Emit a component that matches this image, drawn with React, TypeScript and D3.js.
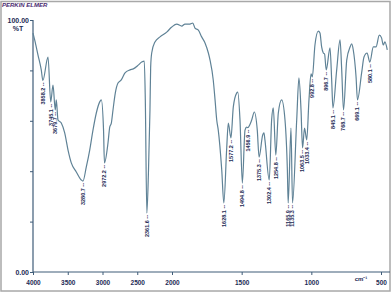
import React, { useRef, useEffect } from "react";
import * as d3 from "d3";

// wavenumber (cm-1) and transmittance (%T)
const wavenumbers = [
  4000, 3976, 3928, 3881, 3858, 3784, 3745, 3712, 3680, 3665, 3640, 3593, 3544, 3496, 3449, 3377,
  3305, 3281, 3233, 3184, 3137, 3089, 3040, 3017, 2985, 2972, 2921, 2896, 2873, 2849, 2816, 2777,
  2730, 2676, 2604, 2557, 2485, 2436, 2399, 2384, 2362, 2338, 2317, 2307, 2292, 2245, 2173, 2076,
  2004, 1966, 1930, 1907, 1871, 1851, 1835, 1811, 1787, 1763, 1739, 1727, 1704, 1691, 1679, 1668,
  1643, 1628, 1607, 1596, 1577, 1560, 1536, 1528, 1512, 1495, 1476, 1464, 1457, 1428, 1409, 1388,
  1375, 1349, 1340, 1333, 1302, 1285, 1273, 1255, 1237, 1213, 1189, 1172, 1166, 1146, 1135, 1105,
  1089, 1074, 1063, 1049, 1033, 1017, 1002, 993, 974, 950, 938, 926, 914, 905, 893, 866, 854, 845,
  818, 794, 782, 769, 746, 722, 710, 699, 679, 669, 639, 622, 600, 580, 555, 536, 512, 496, 484,
  472, 455,
];
const transmittance = [
  94.8, 92.1, 86.1, 80.2, 76.0, 85.3, 67.5, 74.2, 64.3, 68.3, 60.3, 59.1, 55.2, 48.4, 43.3, 39.7,
  36.5, 36.1, 41.7, 48.4, 56.3, 63.1, 67.5, 68.3, 56.3, 43.3, 51.2, 57.5, 59.1, 64.3, 71.0, 75.0,
  76.2, 79.0, 80.2, 80.6, 82.1, 83.3, 83.7, 68.3, 23.4, 40.5, 64.3, 81.3, 86.9, 91.3, 93.3, 95.2,
  97.2, 98.4, 97.6, 98.4, 98.4, 98.8, 96.8, 96.0, 93.3, 90.9, 86.9, 84.1, 76.2, 68.3, 60.3, 56.3,
  40.5, 27.4, 49.6, 59.1, 53.2, 65.5, 71.0, 71.4, 60.3, 35.3, 56.3, 57.5, 57.3, 60.3, 63.5, 56.3,
  45.6, 54.4, 55.2, 52.4, 36.5, 60.3, 65.1, 46.4, 63.1, 68.3, 60.3, 40.5, 27.4, 57.1, 27.4, 60.3,
  77.0, 64.3, 49.2, 57.1, 52.4, 68.3, 78.6, 77.4, 90.1, 95.6, 94.8, 89.3, 86.9, 86.5, 80.2, 88.9, 76.2, 65.1,
  80.2, 92.1, 80.2, 64.3, 84.1, 89.3, 90.5, 88.1, 77.4, 68.3, 79.0, 85.3, 86.9, 83.3, 89.3, 89.3, 94.0, 92.9, 90.1,
  91.3, 88.1,
];

// peak annotations
const peakLabels = [
  "3858.2", "3745.1", "3679.7", "3280.7", "2972.2", "2361.6", "1628.1", "1577.2", "1494.8",
  "1456.9", "1375.3", "1302.4", "1254.8", "1165.9", "1135.3", "1063.5", "1033.4", "992.8",
  "896.7", "845.1", "768.7", "669.1", "580.1",
];

const xTicks = [4000, 3500, 3000, 2500, 2000, 1500, 1000, 500];
const yTicks = [0, 20, 40, 60, 80, 100];

const App = () => {
  const svgRef = useRef<SVGSVGElement>(null);

  useEffect(() => {
    const svg = d3.select(svgRef.current);
    svg.selectAll("*").remove();

    const width = 392;
    const height = 294;
    const axisColor = "#3f5c78";
    const inkColor = "#1c2a55";

    // IR scale changes at 2000 cm-1
    const x = d3.scaleLinear().domain([4000, 2000, 500]).range([33, 172, 381]);
    const y = d3.scaleLinear().domain([0, 100]).range([272, 20]);

    svg.append("rect").attr("width", width).attr("height", height).attr("fill", "#fff");
    svg.append("rect")
      .attr("x", 1).attr("y", 1.5).attr("width", 389).attr("height", 289.5)
      .attr("fill", "none").attr("stroke", "#a8a8a8").attr("stroke-width", 1.5);

    svg.append("text")
      .attr("x", 2).attr("y", 6.5)
      .attr("font-family", "Liberation Sans").attr("font-size", 6).attr("font-weight", "bold")
      .attr("font-style", "italic").attr("fill", "#4a2a70")
      .text("PERKIN ELMER");

    // axes
    const xAxis = svg.append("g")
      .attr("transform", "translate(0,272)")
      .call(d3.axisBottom(x).tickValues(xTicks).tickSize(3).tickFormat((d) => String(d)));
    xAxis.select(".domain").remove();
    xAxis.selectAll("line").attr("stroke", axisColor);
    xAxis.selectAll("text")
      .attr("y", 8.5)
      .attr("font-family", "Liberation Sans").attr("font-size", 6.5).attr("font-weight", "bold")
      .attr("fill", inkColor);
    svg.append("line")
      .attr("x1", 33).attr("x2", 390).attr("y1", 272).attr("y2", 272)
      .attr("stroke", axisColor).attr("stroke-width", 1.2);

    const yAxis = svg.append("g")
      .attr("transform", "translate(33,0)")
      .call(d3.axisLeft(y).tickValues(yTicks).tickSize(3).tickFormat(() => ""));
    yAxis.select(".domain").remove();
    yAxis.selectAll("line").attr("stroke", axisColor);
    svg.append("line")
      .attr("x1", 33).attr("x2", 33).attr("y1", 20).attr("y2", 272)
      .attr("stroke", axisColor).attr("stroke-width", 1.2);

    const labelFont = (s: any) =>
      s.attr("font-family", "Liberation Sans").attr("font-size", 7).attr("font-weight", "bold").attr("fill", inkColor);
    svg.append("text").attr("x", 29).attr("y", y(100) + 2.5).attr("text-anchor", "end").text("100.00").call(labelFont);
    svg.append("text").attr("x", 18).attr("y", y(100) + 11).attr("text-anchor", "middle").text("%T").call(labelFont);
    svg.append("text").attr("x", 29).attr("y", y(0) + 2.5).attr("text-anchor", "end").text("0.00").call(labelFont);
    svg.append("text")
      .attr("x", 361).attr("y", 280.5).attr("text-anchor", "middle")
      .attr("font-family", "Liberation Sans").attr("font-size", 6).attr("font-weight", "bold").attr("fill", inkColor)
      .text("cm⁻¹");

    // spectrum
    const points = wavenumbers.map((w, i) => [w, transmittance[i]] as [number, number]);
    const line = d3.line<[number, number]>()
      .x((d) => x(d[0]))
      .y((d) => y(d[1]))
      .curve(d3.curveMonotoneX);
    svg.append("path")
      .datum(points)
      .attr("fill", "none")
      .attr("stroke", "#5f8296")
      .attr("stroke-width", 1.2)
      .attr("d", line);

    // peak labels, hanging below each minimum
    peakLabels.forEach((lab) => {
      const w = +lab;
      const i = d3.minIndex(wavenumbers, (v) => Math.abs(v - w));
      const px = x(w);
      const py = y(transmittance[i]) + 2;
      svg.append("text")
        .attr("transform", `translate(${px},${py}) rotate(-90)`)
        .attr("text-anchor", "end")
        .attr("dy", "0.35em")
        .attr("font-family", "Liberation Sans").attr("font-size", 5.5).attr("font-weight", "bold")
        .attr("fill", inkColor)
        .text(`${lab} --`);
    });
  }, []);

  return (
    <svg ref={svgRef} width={392} height={294} style={{ position: "absolute", left: 0, top: 0 }}></svg>
  );
};

export default App;
